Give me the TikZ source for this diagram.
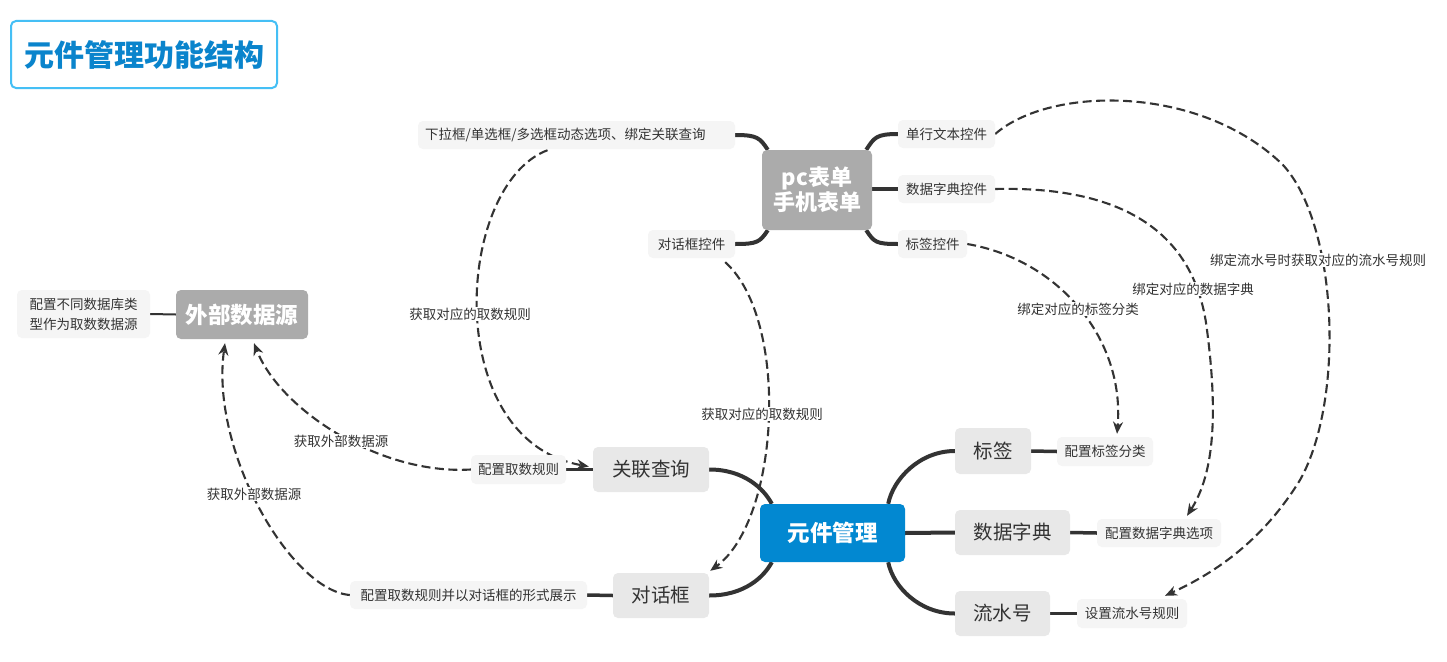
\documentclass[tikz,border=0pt]{standalone}
\usepackage{fontspec}
\setmainfont{Noto Sans CJK SC}
\usetikzlibrary{arrows.meta,backgrounds}
\definecolor{txt}{HTML}{333333}
\definecolor{lightbg}{HTML}{F5F5F5}
\definecolor{midbg}{HTML}{E8E8E8}
\definecolor{greybox}{HTML}{ABABAB}
\definecolor{mainblue}{HTML}{0288D1}
\definecolor{titleblue}{HTML}{0A84CC}
\definecolor{titleborder}{HTML}{45BFF5}
\definecolor{linec}{HTML}{333333}
\begin{document}
\begin{tikzpicture}[x=1pt,y=-1pt,
  box/.style={inner sep=0pt, rounded corners=5pt, align=center, text=txt},
  smallbox/.style={box, fill=lightbg, font=\fontsize{13.5}{20}\selectfont, minimum height=28pt},
  midbox/.style={box, fill=midbg, font=\fontsize{19.5}{24}\selectfont, minimum height=45pt},
  greybig/.style={box, fill=greybox, text=white, font=\fontsize{22}{25}\selectfont\bfseries},
  conn/.style={line width=4pt, draw=linec},
  conn2/.style={line width=3.5pt, draw=linec},
  thinconn/.style={line width=2pt, draw=linec},
  dasharrow/.style={line width=2.1pt, draw=linec, dash pattern=on 9pt off 4.5pt, -{Stealth[length=12pt,width=10pt]}},
  lbl/.style={fill=white, inner sep=1pt, text=txt, font=\fontsize{13.5}{16}\selectfont}
]
\useasboundingbox (0,0) rectangle (1447,661);

% title
\node[draw=titleborder, line width=2pt, rounded corners=5pt, minimum width=266pt, minimum height=67pt, inner sep=0pt, text=titleblue, font=\fontsize{30}{34}\selectfont\bfseries] (title) at (144,54.5) {元件管理功能结构};

% pc form group
\node[greybig, minimum width=110pt, minimum height=80pt] (pc) at (817,190) {pc表单\\手机表单};
\node[smallbox, inner xsep=7pt, text width=303pt, align=left] (xl) at (576.5,135) {下拉框/单选框/多选框动态选项、绑定关联查询};
\node[smallbox, minimum width=87pt] (dlgctl) at (691.5,244) {对话框控件};
\node[smallbox, minimum width=97pt] (dhwb) at (946.5,134) {单行文本控件};
\node[smallbox, minimum width=97pt] (sjzdkj) at (946.5,189) {数据字典控件};
\node[smallbox, minimum width=69pt] (bqkj) at (932.5,244) {标签控件};

% external data source
\node[greybig, minimum width=132pt, minimum height=49pt, font=\fontsize{22.5}{25}\selectfont\bfseries] (ext) at (242,314.5) {外部数据源};
\node[smallbox, minimum width=133pt, minimum height=48pt, align=left] (extd) at (83.5,314) {配置不同数据库类\\型作为取数数据源};

% main
\node[box, fill=mainblue, text=white, minimum width=145pt, minimum height=58pt, font=\fontsize{22.5}{25}\selectfont\bfseries] (main) at (832.5,533) {元件管理};
\node[midbox, minimum width=116pt] (glcx) at (651,469.5) {关联查询};
\node[smallbox, minimum width=95pt, minimum height=29pt] (pzqs) at (518.5,469.5) {配置取数规则};
\node[midbox, minimum width=96pt] (dhk) at (661,595.5) {对话框};
\node[smallbox, minimum width=237pt] (pzqsd) at (468.5,595) {配置取数规则并以对话框的形式展示};
\node[midbox, minimum width=76pt, minimum height=46pt] (bq) at (993,451) {标签};
\node[smallbox, minimum width=96pt, minimum height=29pt] (pzbq) at (1105,451.5) {配置标签分类};
\node[midbox, minimum width=115pt] (sjzd) at (1012.5,532.5) {数据字典};
\node[smallbox, minimum width=124pt] (pzsjzd) at (1159,533) {配置数据字典选项};
\node[midbox, minimum width=95pt] (lsh) at (1002.5,613.5) {流水号};
\node[smallbox, minimum width=110pt, minimum height=29pt] (szlsh) at (1132,613.5) {设置流水号规则};

% labels on dashed lines
\node[lbl] (l1) at (470,314) {获取对应的取数规则};
\node[lbl] (l2) at (762,414) {获取对应的取数规则};
\node[lbl] (l3) at (341,441) {获取外部数据源};
\node[lbl] (l4) at (254,494) {获取外部数据源};
\node[lbl] (l5) at (1078,309) {绑定对应的标签分类};
\node[lbl] (l6) at (1193,289) {绑定对应的数据字典};
\node[lbl] (l7) at (1318,260) {绑定流水号时获取对应的流水号规则};

\begin{scope}[on background layer]
\fill[white] (0,0) rectangle (1447,661);
% thick connectors
\draw[conn] (xl.east) .. controls +(22,0) and +(-8,-12) .. ([xshift=6pt]pc.north west);
\draw[conn] (dlgctl.east) .. controls +(22,0) and +(-8,12) .. ([xshift=6pt]pc.south west);
\draw[conn] (dhwb.west) .. controls +(-22,0) and +(8,-12) .. ([xshift=-6pt]pc.north east);
\draw[conn] (sjzdkj.west) -- (pc.east |- sjzdkj.west);
\draw[conn] (bqkj.west) .. controls +(-22,0) and +(8,12) .. ([xshift=-6pt]pc.south east);
\draw[conn] (glcx.east) .. controls +(35,0) and +(-8,-15) .. ([xshift=12pt]main.north west);
\draw[conn] (dhk.east) .. controls +(35,0) and +(-8,15) .. ([xshift=12pt]main.south west);
\draw[conn] (bq.west) .. controls +(-35,0) and +(5,-25) .. ([xshift=-17pt]main.north east);
\draw[conn] (lsh.west) .. controls +(-35,0) and +(5,25) .. ([xshift=-17pt]main.south east);
\draw[conn] (main.east) -- (sjzd.west);
\draw[thinconn] (extd.east) -- (ext.west);
\draw[conn2] (glcx.west) -- (pzqs.east);
\draw[conn2] (dhk.west) -- (pzqsd.east);
\draw[conn2] (bq.east) -- (pzbq.west);
\draw[conn2] (sjzd.east) -- (pzsjzd.west);
\draw[conn2] (lsh.east) -- (szlsh.west);
% dashed arrows
\draw[dasharrow] ([xshift=-29pt,yshift=-1pt]xl.south) .. controls (455,185) and (440,440) .. ([xshift=-4pt,yshift=3pt]glcx.west);
\draw[dasharrow] ([xshift=-10pt,yshift=-4pt]dlgctl.south east) .. controls (790,320) and (780,520) .. ([xshift=1pt,yshift=2pt]dhk.north east);
\draw[dasharrow] (pzqs.west) .. controls (380,475) and (280,410) .. ([xshift=12pt,yshift=-4pt]ext.south);
\draw[dasharrow] (pzqsd.west) .. controls (290,590) and (210,450) .. ([xshift=-17pt,yshift=-4pt]ext.south);
\draw[dasharrow] (bqkj.east) .. controls (1060,260) and (1125,340) .. ([xshift=12pt,yshift=3pt]pzbq.north);
\draw[dasharrow] (sjzdkj.east) .. controls (1120,186) and (1195,230) .. (1207,330) .. controls (1220,430) and (1210,480) .. ([xshift=28pt,yshift=3pt]pzsjzd.north);
\draw[dasharrow] (dhwb.east) .. controls (1050,86) and (1200,84) .. (1283,165) .. controls (1338,225) and (1345,400) .. (1300,480) .. controls (1260,545) and (1210,575) .. ([xshift=33pt,yshift=3pt]szlsh.north);
\end{scope}
\end{tikzpicture}
\end{document}
